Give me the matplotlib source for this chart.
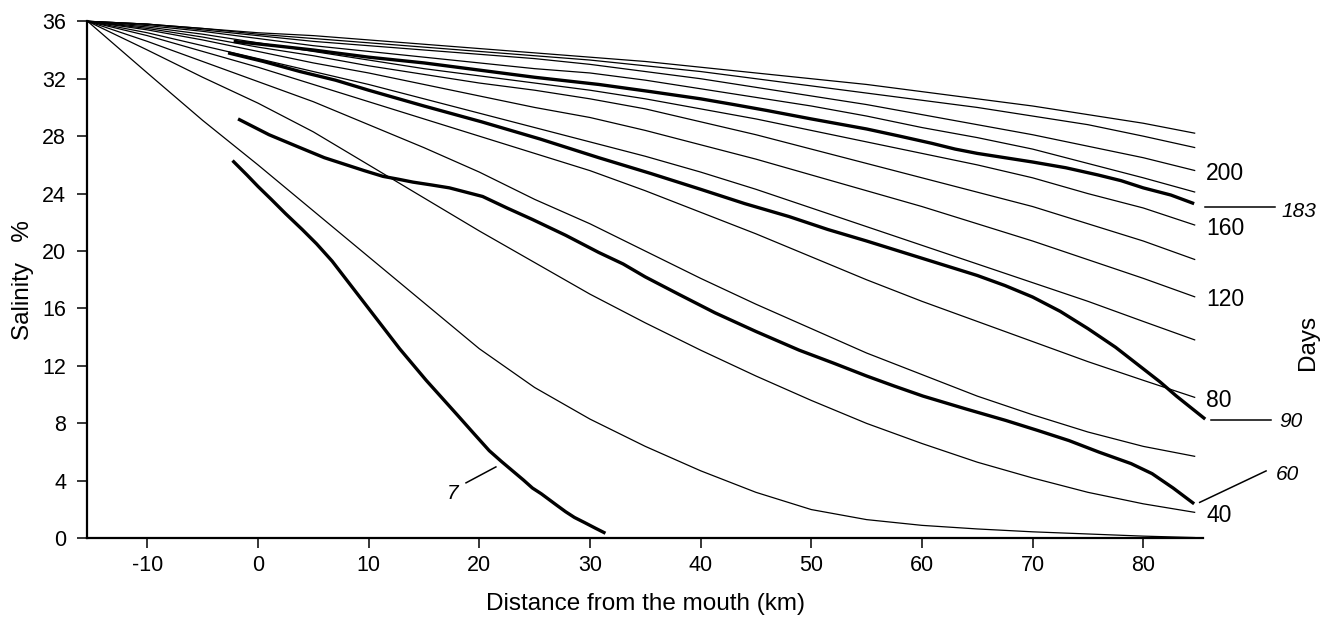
import matplotlib
matplotlib.use("Agg")
import matplotlib.pyplot as plt

plt.rcParams['font.family'] = ['Liberation Sans', 'DejaVu Sans']
plt.rcParams['axes.unicode_minus'] = False

# distance from the mouth (km) at which the model curves were read
dist = [-15.4, -10, -5, 0, 5, 10, 15, 20, 25, 30, 35, 40, 45, 50, 55, 60, 65, 70, 75, 80, 84.7]

# model salinity profiles, one every 20 days
sal_20d = [36, 32.4, 29.1, 26.0, 22.8, 19.6, 16.4, 13.2, 10.5, 8.3, 6.4, 4.7, 3.2, 2.0, 1.3, 0.9, 0.65, 0.45, 0.3, 0.15, 0.05]
sal_40d = [36, 34.0, 32.1, 30.3, 28.3, 26.0, 23.7, 21.4, 19.2, 17.0, 15.0, 13.1, 11.3, 9.6, 8.0, 6.6, 5.3, 4.2, 3.2, 2.4, 1.8]
sal_60d = [36, 34.6, 33.2, 31.8, 30.4, 28.8, 27.2, 25.5, 23.6, 21.9, 20.0, 18.1, 16.3, 14.6, 12.9, 11.4, 9.9, 8.6, 7.4, 6.4, 5.7]
sal_80d = [36, 35.0, 33.9, 32.8, 31.6, 30.4, 29.2, 28.0, 26.8, 25.6, 24.2, 22.7, 21.2, 19.6, 18.0, 16.5, 15.1, 13.7, 12.3, 11.0, 9.8]
sal_100d = [36, 35.2, 34.3, 33.4, 32.5, 31.6, 30.6, 29.6, 28.6, 27.6, 26.6, 25.5, 24.3, 23.0, 21.7, 20.4, 19.1, 17.8, 16.5, 15.1, 13.8]
sal_120d = [36, 35.4, 34.7, 33.9, 33.1, 32.4, 31.6, 30.8, 30.0, 29.3, 28.4, 27.4, 26.4, 25.3, 24.2, 23.1, 21.9, 20.7, 19.4, 18.1, 16.8]
sal_140d = [36, 35.5, 34.9, 34.2, 33.6, 32.9, 32.3, 31.7, 31.2, 30.6, 29.9, 29.0, 28.1, 27.1, 26.1, 25.1, 24.1, 23.1, 21.9, 20.7, 19.4]
sal_160d = [36, 35.6, 35.1, 34.5, 33.9, 33.3, 32.7, 32.2, 31.7, 31.2, 30.6, 29.9, 29.2, 28.4, 27.6, 26.8, 26.0, 25.1, 24.0, 23.0, 21.8]
sal_180d = [36, 35.7, 35.3, 34.8, 34.3, 33.9, 33.5, 33.1, 32.7, 32.4, 31.9, 31.3, 30.7, 30.1, 29.4, 28.6, 27.9, 27.1, 26.1, 25.1, 24.1]
sal_200d = [36, 35.8, 35.4, 35.0, 34.6, 34.3, 34.0, 33.7, 33.4, 33.0, 32.5, 32.0, 31.4, 30.8, 30.2, 29.5, 28.8, 28.1, 27.3, 26.5, 25.6]
sal_220d = [36, 35.8, 35.5, 35.1, 34.8, 34.5, 34.2, 33.9, 33.6, 33.3, 32.9, 32.5, 32.0, 31.5, 31.0, 30.5, 30.0, 29.4, 28.8, 28.0, 27.2]
sal_240d = [36, 35.8, 35.5, 35.2, 35.0, 34.7, 34.4, 34.1, 33.8, 33.5, 33.2, 32.8, 32.4, 32.0, 31.6, 31.1, 30.6, 30.1, 29.5, 28.9, 28.2]

model_days = [20, 40, 60, 80, 100, 120, 140, 160, 180, 200, 220, 240]
model_curves = [sal_20d, sal_40d, sal_60d, sal_80d, sal_100d, sal_120d,
                sal_140d, sal_160d, sal_180d, sal_200d, sal_220d, sal_240d]
labelled_days = [40, 80, 120, 160, 200]

# measured profiles (thick lines)
obs7_km = [-2.3, -1, 0, 1.2, 2.5, 4, 5.3, 6.7, 8, 9, 10, 11.4, 12.8, 14, 15.2, 16.6, 18, 19.5, 20.9,
           22, 23, 24, 24.8, 25.6, 26.3, 27, 27.8, 28.6, 29.5, 30.5, 31.4]
obs7_sal = [26.3, 25.3, 24.5, 23.6, 22.6, 21.5, 20.5, 19.3, 18.0, 17.0, 16.0, 14.6, 13.2, 12.1, 11.0, 9.8, 8.6, 7.3, 6.1,
            5.35, 4.7, 4.05, 3.5, 3.1, 2.7, 2.3, 1.85, 1.45, 1.1, 0.7, 0.35]

obs60_km = [-1.8, 1, 3.8, 6, 8, 9.6, 11.3, 12.7, 14, 15.7, 17.3, 18.8, 20.3, 22.5, 24.8, 27.8, 30.8, 33, 35, 38,
            41.3, 45, 48.9, 52, 55, 57.5, 60.1, 64, 67.6, 70.5, 73.3, 76, 78.9, 80.8, 82.7, 84.6]
obs60_sal = [29.2, 28.1, 27.2, 26.5, 26.0, 25.6, 25.2, 25.0, 24.8, 24.6, 24.4, 24.1, 23.8, 23.0, 22.2, 21.1, 19.9, 19.1, 18.2, 17.0,
             15.7, 14.4, 13.1, 12.2, 11.3, 10.6, 9.9, 9.0, 8.2, 7.5, 6.8, 6.0, 5.2, 4.5, 3.5, 2.4]

obs90_km = [-2.7, 0.5, 3.8, 7, 10, 15, 20.2, 25.5, 30.8, 35.5, 40, 44, 48, 51.5, 55, 57.5, 60, 62.5, 65, 67.5,
            70, 72.5, 75, 77.5, 80, 81.5, 83, 84.3, 85.6]
obs90_sal = [33.8, 33.2, 32.5, 31.9, 31.2, 30.1, 29.0, 27.8, 26.5, 25.4, 24.3, 23.3, 22.4, 21.5, 20.7, 20.1, 19.5, 18.9, 18.3, 17.6,
             16.8, 15.8, 14.6, 13.3, 11.8, 10.9, 9.9, 9.1, 8.3]

obs183_km = [-2.2, 1.5, 5, 10, 15, 20, 25, 30.8, 35.5, 40, 43, 45.9, 50, 55, 58, 60.9, 63, 65, 67.5, 70, 73,
             75.9, 78, 80, 82.5, 84.6]
obs183_sal = [34.6, 34.3, 34.0, 33.5, 33.1, 32.6, 32.1, 31.6, 31.1, 30.6, 30.2, 29.8, 29.2, 28.5, 28.0, 27.5, 27.1, 26.8, 26.5, 26.2, 25.8,
              25.3, 24.9, 24.4, 23.9, 23.3]

fig = plt.figure(figsize=(13.32, 6.2), dpi=100)
ax = fig.add_axes([87 / 1332, 0.1318, (1203 - 87) / 1332, 0.8339])

for days, sal in zip(model_days, model_curves):
    ax.plot(dist, sal, color='black', lw=0.9, solid_capstyle='butt', clip_on=False)
    if days in labelled_days:
        ax.text(dist[-1] + 1.0, sal[-1] - 0.2, str(days), fontsize=16.5,
                ha='left', va='center')

for km, sal in [(obs7_km, obs7_sal), (obs60_km, obs60_sal),
                (obs90_km, obs90_sal), (obs183_km, obs183_sal)]:
    ax.plot(km, sal, color='black', lw=2.4, solid_capstyle='butt',
            solid_joinstyle='round', clip_on=False)

# italic labels with leader lines for the measured profiles
lead = dict(color='black', lw=1.1, clip_on=False)
ax.plot([85.55, 91.9], [23.05, 23.05], **lead)
ax.text(92.5, 22.75, '183', fontsize=15, style='italic', ha='left', va='center')
ax.plot([86.1, 91.5], [8.24, 8.24], **lead)
ax.text(92.3, 8.1, '90', fontsize=15, style='italic', ha='left', va='center')
ax.plot([85.1, 91.1], [2.5, 4.69], **lead)
ax.text(92.0, 4.45, '60', fontsize=15, style='italic', ha='left', va='center')
ax.plot([18.8, 21.5], [3.86, 4.97], **lead)
ax.text(17.6, 3.1, '7', fontsize=15, style='italic', ha='center', va='center')

ax.set_xlim(-15.45, 85.4)
ax.set_ylim(0, 36)
ax.set_xticks(range(-10, 90, 10))
ax.set_yticks(range(0, 40, 4))
ax.spines['top'].set_visible(False)
ax.spines['right'].set_visible(False)
ax.spines['left'].set_linewidth(1.6)
ax.spines['bottom'].set_linewidth(1.6)
ax.tick_params(axis='both', direction='out', length=7, width=1.1, labelsize=15.5)
ax.tick_params(axis='x', pad=5)
ax.tick_params(axis='y', pad=8)

ax.set_xlabel('Distance from the mouth (km)', fontsize=17.5, labelpad=12)
ax.set_ylabel('Salinity   %', fontsize=17.5, labelpad=6)
fig.text(1308 / 1332, 1 - 342 / 620, 'Days', rotation=90, fontsize=17.5,
         ha='center', va='center')

fig.savefig('out.png', dpi=100)
